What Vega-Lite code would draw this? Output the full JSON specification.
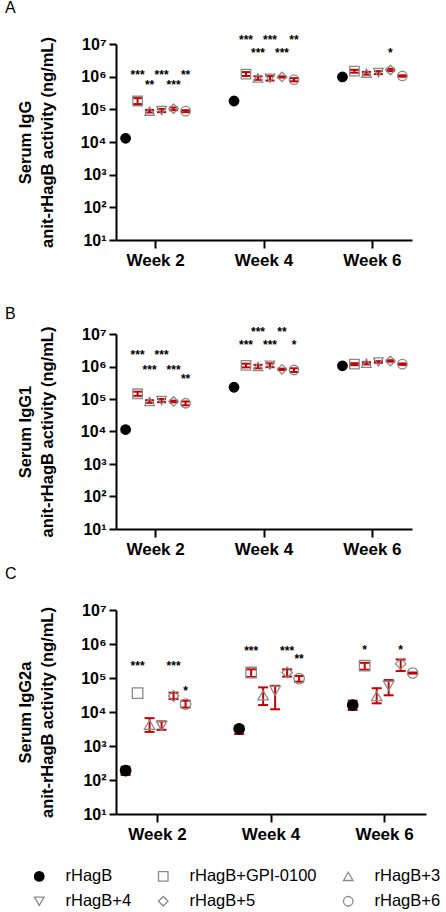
{
  "$schema": "https://vega.github.io/schema/vega-lite/v6.json",
  "padding": {"left": 5, "top": 0, "right": 5, "bottom": 5},
  "background": "white",
  "config": {
    "view": {"stroke": null},
    "font": "Liberation Sans",
    "axis": {"domainColor": "black", "domainWidth": 2, "tickColor": "black", "tickWidth": 2, "grid": false, "labelColor": "black", "labelFont": "Liberation Sans", "labelFontWeight": "bold", "titleFont": "Liberation Sans", "titleFontWeight": "bold", "titleColor": "black", "titleLineHeight": 22},
    "axisY": {"tickSize": 7, "labelPadding": 3, "titlePadding": 25},
    "axisX": {"tickSize": 8, "labelPadding": 4, "labelAngle": 0},
    "title": {"font": "Liberation Sans", "fontSize": 16, "fontWeight": "normal", "color": "black", "anchor": "start", "frame": "group"}
  },
  "datasets": {
    "vals": [
      {"panel": "A", "week": "Week 2", "group": "rHagB", "value": 13000, "lo": null, "hi": null},
      {"panel": "A", "week": "Week 2", "group": "rHagB+GPI-0100", "value": 180000, "lo": 145000, "hi": 220000},
      {"panel": "A", "week": "Week 2", "group": "rHagB+3", "value": 88000, "lo": 80000, "hi": 96000},
      {"panel": "A", "week": "Week 2", "group": "rHagB+4", "value": 92000, "lo": 82000, "hi": 103000},
      {"panel": "A", "week": "Week 2", "group": "rHagB+5", "value": 104000, "lo": 94000, "hi": 114000},
      {"panel": "A", "week": "Week 2", "group": "rHagB+6", "value": 88000, "lo": 82000, "hi": 94000},
      {"panel": "A", "week": "Week 4", "group": "rHagB", "value": 180000, "lo": 170000, "hi": 190000},
      {"panel": "A", "week": "Week 4", "group": "rHagB+GPI-0100", "value": 1200000, "lo": 1050000, "hi": 1380000},
      {"panel": "A", "week": "Week 4", "group": "rHagB+3", "value": 910000, "lo": 800000, "hi": 1020000},
      {"panel": "A", "week": "Week 4", "group": "rHagB+4", "value": 890000, "lo": 760000, "hi": 1040000},
      {"panel": "A", "week": "Week 4", "group": "rHagB+5", "value": 980000, "lo": 940000, "hi": 1020000},
      {"panel": "A", "week": "Week 4", "group": "rHagB+6", "value": 810000, "lo": 720000, "hi": 900000},
      {"panel": "A", "week": "Week 6", "group": "rHagB", "value": 980000, "lo": 920000, "hi": 1040000},
      {"panel": "A", "week": "Week 6", "group": "rHagB+GPI-0100", "value": 1480000, "lo": 1320000, "hi": 1620000},
      {"panel": "A", "week": "Week 6", "group": "rHagB+3", "value": 1280000, "lo": 1150000, "hi": 1400000},
      {"panel": "A", "week": "Week 6", "group": "rHagB+4", "value": 1340000, "lo": 1200000, "hi": 1480000},
      {"panel": "A", "week": "Week 6", "group": "rHagB+5", "value": 1600000, "lo": 1480000, "hi": 1740000},
      {"panel": "A", "week": "Week 6", "group": "rHagB+6", "value": 1050000, "lo": 1000000, "hi": 1100000},
      {"panel": "B", "week": "Week 2", "group": "rHagB", "value": 11500, "lo": 10000, "hi": 13000},
      {"panel": "B", "week": "Week 2", "group": "rHagB+GPI-0100", "value": 145000, "lo": 125000, "hi": 168000},
      {"panel": "B", "week": "Week 2", "group": "rHagB+3", "value": 84000, "lo": 76000, "hi": 92000},
      {"panel": "B", "week": "Week 2", "group": "rHagB+4", "value": 90000, "lo": 80000, "hi": 100000},
      {"panel": "B", "week": "Week 2", "group": "rHagB+5", "value": 84000, "lo": 79000, "hi": 89000},
      {"panel": "B", "week": "Week 2", "group": "rHagB+6", "value": 74000, "lo": 64000, "hi": 84000},
      {"panel": "B", "week": "Week 4", "group": "rHagB", "value": 230000, "lo": null, "hi": null},
      {"panel": "B", "week": "Week 4", "group": "rHagB+GPI-0100", "value": 1080000, "lo": 940000, "hi": 1220000},
      {"panel": "B", "week": "Week 4", "group": "rHagB+3", "value": 1000000, "lo": 880000, "hi": 1120000},
      {"panel": "B", "week": "Week 4", "group": "rHagB+4", "value": 1100000, "lo": 950000, "hi": 1250000},
      {"panel": "B", "week": "Week 4", "group": "rHagB+5", "value": 820000, "lo": 780000, "hi": 860000},
      {"panel": "B", "week": "Week 4", "group": "rHagB+6", "value": 780000, "lo": 680000, "hi": 880000},
      {"panel": "B", "week": "Week 6", "group": "rHagB", "value": 1050000, "lo": null, "hi": null},
      {"panel": "B", "week": "Week 6", "group": "rHagB+GPI-0100", "value": 1180000, "lo": 1100000, "hi": 1260000},
      {"panel": "B", "week": "Week 6", "group": "rHagB+3", "value": 1260000, "lo": 1160000, "hi": 1360000},
      {"panel": "B", "week": "Week 6", "group": "rHagB+4", "value": 1380000, "lo": 1300000, "hi": 1460000},
      {"panel": "B", "week": "Week 6", "group": "rHagB+5", "value": 1480000, "lo": 1400000, "hi": 1560000},
      {"panel": "B", "week": "Week 6", "group": "rHagB+6", "value": 1180000, "lo": 1120000, "hi": 1240000},
      {"panel": "C", "week": "Week 2", "group": "rHagB", "value": 190, "lo": 140, "hi": 245},
      {"panel": "C", "week": "Week 2", "group": "rHagB+GPI-0100", "value": 36000, "lo": null, "hi": null},
      {"panel": "C", "week": "Week 2", "group": "rHagB+3", "value": 4200, "lo": 2600, "hi": 6600},
      {"panel": "C", "week": "Week 2", "group": "rHagB+4", "value": 3900, "lo": 3000, "hi": 5300},
      {"panel": "C", "week": "Week 2", "group": "rHagB+5", "value": 29500, "lo": 24000, "hi": 37000},
      {"panel": "C", "week": "Week 2", "group": "rHagB+6", "value": 17000, "lo": 13500, "hi": 21500},
      {"panel": "C", "week": "Week 4", "group": "rHagB", "value": 3200, "lo": 2250, "hi": 3900},
      {"panel": "C", "week": "Week 4", "group": "rHagB+GPI-0100", "value": 145000, "lo": 107000, "hi": 180000},
      {"panel": "C", "week": "Week 4", "group": "rHagB+3", "value": 31000, "lo": 16000, "hi": 53000},
      {"panel": "C", "week": "Week 4", "group": "rHagB+4", "value": 42000, "lo": 12000, "hi": 59000},
      {"panel": "C", "week": "Week 4", "group": "rHagB+5", "value": 145000, "lo": 110000, "hi": 180000},
      {"panel": "C", "week": "Week 4", "group": "rHagB+6", "value": 96000, "lo": 78000, "hi": 115000},
      {"panel": "C", "week": "Week 6", "group": "rHagB", "value": 16000, "lo": 11500, "hi": 21500},
      {"panel": "C", "week": "Week 6", "group": "rHagB+GPI-0100", "value": 230000, "lo": 175000, "hi": 280000},
      {"panel": "C", "week": "Week 6", "group": "rHagB+3", "value": 29500, "lo": 18000, "hi": 50000},
      {"panel": "C", "week": "Week 6", "group": "rHagB+4", "value": 59000, "lo": 31000, "hi": 87000},
      {"panel": "C", "week": "Week 6", "group": "rHagB+5", "value": 260000, "lo": 160000, "hi": 350000},
      {"panel": "C", "week": "Week 6", "group": "rHagB+6", "value": 140000, "lo": 135000, "hi": 145000}
    ],
    "stars": [
      {"panel": "A", "week": "Week 2", "group": "rHagB+GPI-0100", "y": 1290000, "label": "***"},
      {"panel": "A", "week": "Week 2", "group": "rHagB+4", "y": 1290000, "label": "***"},
      {"panel": "A", "week": "Week 2", "group": "rHagB+6", "y": 1290000, "label": "**"},
      {"panel": "A", "week": "Week 2", "group": "rHagB+3", "y": 650000, "label": "**"},
      {"panel": "A", "week": "Week 2", "group": "rHagB+5", "y": 650000, "label": "***"},
      {"panel": "A", "week": "Week 4", "group": "rHagB+GPI-0100", "y": 15000000, "label": "***"},
      {"panel": "A", "week": "Week 4", "group": "rHagB+4", "y": 15000000, "label": "***"},
      {"panel": "A", "week": "Week 4", "group": "rHagB+6", "y": 15000000, "label": "**"},
      {"panel": "A", "week": "Week 4", "group": "rHagB+3", "y": 6200000, "label": "***"},
      {"panel": "A", "week": "Week 4", "group": "rHagB+5", "y": 6200000, "label": "***"},
      {"panel": "A", "week": "Week 6", "group": "rHagB+5", "y": 6300000, "label": "*"},
      {"panel": "B", "week": "Week 2", "group": "rHagB+GPI-0100", "y": 2600000, "label": "***"},
      {"panel": "B", "week": "Week 2", "group": "rHagB+4", "y": 2600000, "label": "***"},
      {"panel": "B", "week": "Week 2", "group": "rHagB+3", "y": 910000, "label": "***"},
      {"panel": "B", "week": "Week 2", "group": "rHagB+5", "y": 910000, "label": "***"},
      {"panel": "B", "week": "Week 2", "group": "rHagB+6", "y": 460000, "label": "**"},
      {"panel": "B", "week": "Week 4", "group": "rHagB+3", "y": 13000000, "label": "***"},
      {"panel": "B", "week": "Week 4", "group": "rHagB+5", "y": 13000000, "label": "**"},
      {"panel": "B", "week": "Week 4", "group": "rHagB+GPI-0100", "y": 5400000, "label": "***"},
      {"panel": "B", "week": "Week 4", "group": "rHagB+4", "y": 5400000, "label": "***"},
      {"panel": "B", "week": "Week 4", "group": "rHagB+6", "y": 5400000, "label": "*"},
      {"panel": "C", "week": "Week 2", "group": "rHagB+GPI-0100", "y": 260000, "label": "***"},
      {"panel": "C", "week": "Week 2", "group": "rHagB+5", "y": 260000, "label": "***"},
      {"panel": "C", "week": "Week 2", "group": "rHagB+6", "y": 47000, "label": "*"},
      {"panel": "C", "week": "Week 4", "group": "rHagB+GPI-0100", "y": 710000, "label": "***"},
      {"panel": "C", "week": "Week 4", "group": "rHagB+5", "y": 710000, "label": "***"},
      {"panel": "C", "week": "Week 4", "group": "rHagB+6", "y": 420000, "label": "**"},
      {"panel": "C", "week": "Week 6", "group": "rHagB+GPI-0100", "y": 780000, "label": "*"},
      {"panel": "C", "week": "Week 6", "group": "rHagB+5", "y": 780000, "label": "*"}
    ]
  },
  "vconcat": [
    {
      "vconcat": [
        {
          "width": 296, "height": 196,
          "title": {"text": "A", "dx": -111, "offset": 18},
          "layer": [
            {"data": {"name": "vals"}, "transform": [{"filter": "datum.panel === 'A'"}],
             "mark": {"type": "rule", "color": "#c00000", "strokeWidth": 2},
             "encoding": {
               "x": {"field": "week", "type": "nominal", "scale": {"domain": ["Week 2", "Week 4", "Week 6"], "paddingInner": 0.27, "paddingOuter": 0}, "axis": {"title": null, "labelFontSize": 17}},
               "xOffset": {"field": "group", "type": "nominal", "scale": {"domain": ["rHagB", "rHagB+GPI-0100", "rHagB+3", "rHagB+4", "rHagB+5", "rHagB+6"], "paddingOuter": 0.3, "paddingInner": 0}},
               "y": {"field": "lo", "type": "quantitative", "scale": {"type": "log", "domain": [10, 10000000], "nice": false}, "axis": {"values": [10, 100, 1000, 10000, 100000, 1000000, 10000000], "labelExpr": "'10' + ['⁰','¹','²','³','⁴','⁵','⁶','⁷'][round(log(datum.value)/LN10)]", "labelFontSize": 16, "titleFontSize": 16.5, "title": ["Serum IgG", "anit-rHagB activity (ng/mL)"]}},
               "y2": {"field": "hi"}}},
            {"data": {"name": "vals"}, "transform": [{"filter": "datum.panel === 'A'"}],
             "mark": {"type": "tick", "color": "#c00000", "thickness": 2, "size": 9, "opacity": 1},
             "encoding": {"x": {"field": "week", "type": "nominal"}, "xOffset": {"field": "group", "type": "nominal"}, "y": {"field": "lo", "type": "quantitative"}}},
            {"data": {"name": "vals"}, "transform": [{"filter": "datum.panel === 'A'"}],
             "mark": {"type": "tick", "color": "#c00000", "thickness": 2, "size": 9, "opacity": 1},
             "encoding": {"x": {"field": "week", "type": "nominal"}, "xOffset": {"field": "group", "type": "nominal"}, "y": {"field": "hi", "type": "quantitative"}}},
            {"data": {"name": "vals"}, "transform": [{"filter": "datum.panel === 'A'"}],
             "mark": {"type": "point", "filled": true, "size": 90, "strokeWidth": 1.3, "opacity": 1},
             "encoding": {
               "x": {"field": "week", "type": "nominal"},
               "xOffset": {"field": "group", "type": "nominal"},
               "y": {"field": "value", "type": "quantitative"},
               "shape": {"field": "group", "type": "nominal", "scale": {"domain": ["rHagB", "rHagB+4", "rHagB+GPI-0100", "rHagB+5", "rHagB+3", "rHagB+6"], "range": ["circle", "triangle-down", "square", "diamond", "triangle-up", "circle"]}, "legend": {"title": null, "orient": "none", "legendX": -85, "legendY": 824, "columns": 3, "labelFontSize": 16.5, "labelFont": "Liberation Sans", "labelColor": "black", "symbolSize": 90, "symbolStrokeWidth": 1.3, "columnPadding": 23, "rowPadding": 8, "labelOffset": 18}},
               "fill": {"field": "group", "type": "nominal", "scale": {"domain": ["rHagB", "rHagB+4", "rHagB+GPI-0100", "rHagB+5", "rHagB+3", "rHagB+6"], "range": ["black", "transparent", "transparent", "transparent", "transparent", "transparent"]}},
               "stroke": {"field": "group", "type": "nominal", "scale": {"domain": ["rHagB", "rHagB+4", "rHagB+GPI-0100", "rHagB+5", "rHagB+3", "rHagB+6"], "range": ["black", "#8a8a8a", "#8a8a8a", "#8a8a8a", "#8a8a8a", "#8a8a8a"]}}
             }},
            {"data": {"name": "stars"}, "transform": [{"filter": "datum.panel === 'A'"}],
             "mark": {"type": "text", "fontSize": 12, "fontWeight": "bold", "baseline": "alphabetic", "dy": 6, "color": "black"},
             "encoding": {"x": {"field": "week", "type": "nominal"}, "xOffset": {"field": "group", "type": "nominal"}, "y": {"field": "y", "type": "quantitative"}, "text": {"field": "label"}}}
          ]
        },
        {
          "width": 296, "height": 195,
          "title": {"text": "B", "dx": -111, "offset": 4},
          "layer": [
            {"data": {"name": "vals"}, "transform": [{"filter": "datum.panel === 'B'"}],
             "mark": {"type": "rule", "color": "#c00000", "strokeWidth": 2},
             "encoding": {
               "x": {"field": "week", "type": "nominal", "scale": {"domain": ["Week 2", "Week 4", "Week 6"], "paddingInner": 0.27, "paddingOuter": 0}, "axis": {"title": null, "labelFontSize": 17}},
               "xOffset": {"field": "group", "type": "nominal", "scale": {"domain": ["rHagB", "rHagB+GPI-0100", "rHagB+3", "rHagB+4", "rHagB+5", "rHagB+6"], "paddingOuter": 0.3, "paddingInner": 0}},
               "y": {"field": "lo", "type": "quantitative", "scale": {"type": "log", "domain": [10, 10000000], "nice": false}, "axis": {"values": [10, 100, 1000, 10000, 100000, 1000000, 10000000], "labelExpr": "'10' + ['⁰','¹','²','³','⁴','⁵','⁶','⁷'][round(log(datum.value)/LN10)]", "labelFontSize": 16, "titleFontSize": 16.5, "title": ["Serum IgG1", "anit-rHagB activity (ng/mL)"]}},
               "y2": {"field": "hi"}}},
            {"data": {"name": "vals"}, "transform": [{"filter": "datum.panel === 'B'"}],
             "mark": {"type": "tick", "color": "#c00000", "thickness": 2, "size": 9, "opacity": 1},
             "encoding": {"x": {"field": "week", "type": "nominal"}, "xOffset": {"field": "group", "type": "nominal"}, "y": {"field": "lo", "type": "quantitative"}}},
            {"data": {"name": "vals"}, "transform": [{"filter": "datum.panel === 'B'"}],
             "mark": {"type": "tick", "color": "#c00000", "thickness": 2, "size": 9, "opacity": 1},
             "encoding": {"x": {"field": "week", "type": "nominal"}, "xOffset": {"field": "group", "type": "nominal"}, "y": {"field": "hi", "type": "quantitative"}}},
            {"data": {"name": "vals"}, "transform": [{"filter": "datum.panel === 'B'"}],
             "mark": {"type": "point", "filled": true, "size": 90, "strokeWidth": 1.3, "opacity": 1},
             "encoding": {
               "x": {"field": "week", "type": "nominal"},
               "xOffset": {"field": "group", "type": "nominal"},
               "y": {"field": "value", "type": "quantitative"},
               "shape": {"field": "group", "type": "nominal"},
               "fill": {"field": "group", "type": "nominal"},
               "stroke": {"field": "group", "type": "nominal"}
             }},
            {"data": {"name": "stars"}, "transform": [{"filter": "datum.panel === 'B'"}],
             "mark": {"type": "text", "fontSize": 12, "fontWeight": "bold", "baseline": "alphabetic", "dy": 6, "color": "black"},
             "encoding": {"x": {"field": "week", "type": "nominal"}, "xOffset": {"field": "group", "type": "nominal"}, "y": {"field": "y", "type": "quantitative"}, "text": {"field": "label"}}}
          ]
        }
      ],
      "spacing": 38
    },
    {
      "width": 310, "height": 204,
      "title": {"text": "C", "dx": -111, "offset": 20},
      "layer": [
        {"data": {"name": "vals"}, "transform": [{"filter": "datum.panel === 'C'"}],
         "mark": {"type": "rule", "color": "#c00000", "strokeWidth": 2},
         "encoding": {
           "x": {"field": "week", "type": "nominal", "scale": {"domain": ["Week 2", "Week 4", "Week 6"], "paddingInner": 0.27, "paddingOuter": 0}, "axis": {"title": null, "labelFontSize": 17}},
           "xOffset": {"field": "group", "type": "nominal", "scale": {"domain": ["rHagB", "rHagB+GPI-0100", "rHagB+3", "rHagB+4", "rHagB+5", "rHagB+6"], "paddingOuter": 0.3, "paddingInner": 0}},
           "y": {"field": "lo", "type": "quantitative", "scale": {"type": "log", "domain": [10, 10000000], "nice": false}, "axis": {"values": [10, 100, 1000, 10000, 100000, 1000000, 10000000], "labelExpr": "'10' + ['⁰','¹','²','³','⁴','⁵','⁶','⁷'][round(log(datum.value)/LN10)]", "labelFontSize": 16, "titleFontSize": 16.5, "title": ["Serum IgG2a", "anit-rHagB activity (ng/mL)"]}},
           "y2": {"field": "hi"}}},
        {"data": {"name": "vals"}, "transform": [{"filter": "datum.panel === 'C'"}],
         "mark": {"type": "tick", "color": "#c00000", "thickness": 2, "size": 10, "opacity": 1},
         "encoding": {"x": {"field": "week", "type": "nominal"}, "xOffset": {"field": "group", "type": "nominal"}, "y": {"field": "lo", "type": "quantitative"}}},
        {"data": {"name": "vals"}, "transform": [{"filter": "datum.panel === 'C'"}],
         "mark": {"type": "tick", "color": "#c00000", "thickness": 2, "size": 10, "opacity": 1},
         "encoding": {"x": {"field": "week", "type": "nominal"}, "xOffset": {"field": "group", "type": "nominal"}, "y": {"field": "hi", "type": "quantitative"}}},
        {"data": {"name": "vals"}, "transform": [{"filter": "datum.panel === 'C'"}],
         "mark": {"type": "point", "filled": true, "size": 110, "strokeWidth": 1.3, "opacity": 1},
         "encoding": {
           "x": {"field": "week", "type": "nominal"},
           "xOffset": {"field": "group", "type": "nominal"},
           "y": {"field": "value", "type": "quantitative"},
           "shape": {"field": "group", "type": "nominal"},
           "fill": {"field": "group", "type": "nominal"},
           "stroke": {"field": "group", "type": "nominal"}
         }},
        {"data": {"name": "stars"}, "transform": [{"filter": "datum.panel === 'C'"}],
         "mark": {"type": "text", "fontSize": 12, "fontWeight": "bold", "baseline": "alphabetic", "dy": 6, "color": "black"},
         "encoding": {"x": {"field": "week", "type": "nominal"}, "xOffset": {"field": "group", "type": "nominal"}, "y": {"field": "y", "type": "quantitative"}, "text": {"field": "label"}}}
      ]
    }
  ],
  "spacing": 9
}
